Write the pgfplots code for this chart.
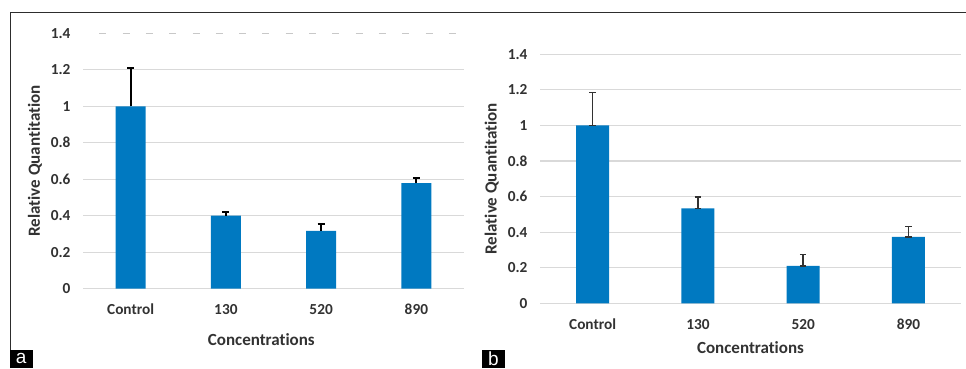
\documentclass[border=0pt]{standalone}
\usepackage{fontspec}
\setmainfont{Carlito}[Ligatures={NoCommon}]
\newfontfamily\labfont{Liberation Sans}
\usepackage{pgfplots}
\pgfplotsset{compat=1.18}
\definecolor{barblue}{RGB}{0,121,193}
\definecolor{gridgray}{RGB}{217,217,217}
\definecolor{dashgray}{RGB}{200,200,200}
\definecolor{txtgray}{RGB}{50,50,50}
\definecolor{framegray}{RGB}{45,45,45}
\definecolor{errgray}{RGB}{50,50,50}
\pgfplotsset{
 relq/.style={
  scale only axis, ybar, ymin=0, ymax=1.4, xmin=-0.5, xmax=3.5,
  xtick={0,1,2,3}, xticklabels={Control,130,520,890},
  axis line style={draw=none}, major tick length=0pt, tick style={draw=none},
  ymajorgrids, grid style={gridgray, line width=1.2pt},
  /pgf/number format/assume math mode=true,
  ticklabel style={font=\fontsize{15.3}{17}\selectfont\bfseries, text=txtgray},
  yticklabel style={anchor=east, xshift=-9pt},
  xticklabel style={anchor=base, yshift=-26pt},
  label style={font=\fontsize{17}{19}\selectfont\bfseries, text=txtgray},
  xlabel=Concentrations, ylabel=Relative Quantitation,
  clip=false,
 }
}
\begin{document}
\begin{tikzpicture}
\useasboundingbox (0pt,0pt) rectangle (966pt,368pt);
% frame
\draw[framegray, line width=1pt] (10pt,0pt) -- (10pt,356pt) -- (966pt,356pt);
% panel a
\begin{axis}[relq, at={(83pt,79.3pt)}, anchor=south west, width=381pt, height=255.4pt,
  bar width=30pt,
  ytick={0,0.2,0.4,0.6,0.8,1,1.2}, extra y ticks={1.4},
  extra y tick style={grid style={dashgray, line width=1.2pt, dash pattern=on 7pt off 16.3pt, dash phase=7pt}},
  ylabel style={at={(axis description cs:-0.126,0.5)}, anchor=center},
  xlabel style={at={(axis description cs:0.468,-0.2009)}, anchor=center}]
\addplot[fill=barblue, draw=none,
  error bars/.cd, y dir=plus, y explicit,
  error bar style={line width=1.9pt, black},
  error mark options={rotate=90, line width=1.9pt, mark size=3.5pt, black}]
  coordinates {(0,1.0) +- (0,0.211) (1,0.401) +- (0,0.019) (2,0.317) +- (0,0.038) (3,0.579) +- (0,0.028)};
\end{axis}
% panel b
\begin{axis}[relq, at={(540pt,64.7pt)}, anchor=south west, width=421pt, height=249pt,
  bar width=33pt,
  ytick={0,0.2,0.4,0.6,0.8,1,1.2,1.4},
  ylabel style={at={(axis description cs:-0.1147,0.5)}, anchor=center},
  xlabel style={at={(axis description cs:0.5,-0.1767)}, anchor=center}]
\addplot[fill=barblue, draw=none,
  error bars/.cd, y dir=both, y explicit,
  error bar style={line width=1.6pt, errgray},
  error mark options={rotate=90, line width=1.6pt, mark size=3.3pt, errgray}]
  coordinates {(0,1.0) += (0,0.186) -= (0,0) (1,0.534) += (0,0.064) -= (0,0) (2,0.211) += (0,0.064) -= (0,0) (3,0.374) += (0,0.057) -= (0,0)};
\end{axis}
% panel letters
\fill[black] (10pt,0pt) rectangle (32.5pt,18pt);
\node[text=white, inner sep=0pt, font=\labfont\fontsize{19}{19}\selectfont] at (21.25pt,9.5pt) {a};
\fill[black] (481.7pt,0pt) rectangle (505pt,18pt);
\node[text=white, inner sep=0pt, font=\labfont\fontsize{19}{19}\selectfont] at (493.35pt,9.5pt) {b};
\end{tikzpicture}
\end{document}
